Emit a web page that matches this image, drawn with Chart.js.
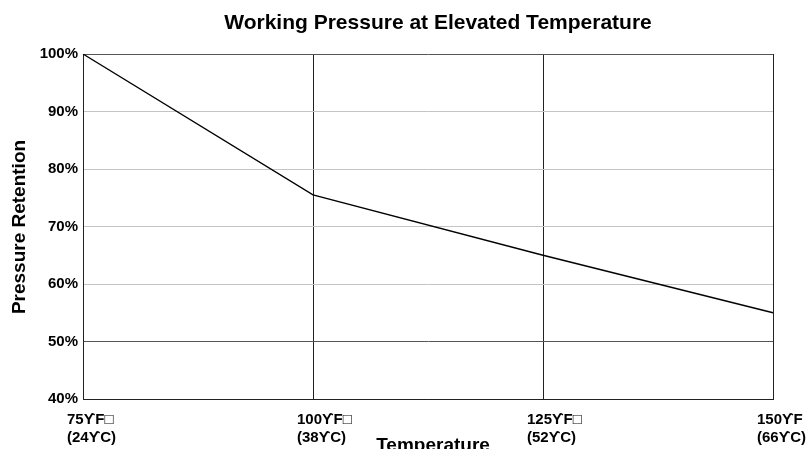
<!DOCTYPE html>
<html>
<head>
<meta charset="utf-8">
<script src="https://cdn.jsdelivr.net/npm/chart.js@4.4.1/dist/chart.umd.min.js"></script>
<style>
	body { margin: 0; background: #fff; }
	canvas { display: block; }
</style>
</head>
<body>
<canvas id="graph" width="806" height="449"></canvas>
<script>
var temperatures = [["75ϒF□", "(24ϒC)"], ["100ϒF□", "(38ϒC)"], ["125ϒF□", "(52ϒC)"], ["150ϒF", "(66ϒC)"]]
var retention = [100, 75.5, 65, 55]
var yTicks = [40, 50, 60, 70, 80, 90, 100]

var FONT = "'Liberation Sans', Arial, Helvetica, sans-serif"

// chart title and the two axis titles, drawn at fixed spots
var titles = {
	id: "titles",
	afterDraw: function(chart) {
		var ctx = chart.ctx
		ctx.save()
		ctx.fillStyle = "#000"
		ctx.textAlign = "center"
		ctx.textBaseline = "alphabetic"
		ctx.font = "bold 21px " + FONT
		ctx.fillText("Working Pressure at Elevated Temperature", 438, 29)
		ctx.font = "bold 19px " + FONT
		ctx.fillText("Temperature", 433, 451)
		ctx.translate(25, 227)
		ctx.rotate(-Math.PI / 2)
		ctx.fillText("Pressure Retention", 0, 0)
		ctx.restore()
	}
}

function hColor(ctx) {
	var v = ctx.tick ? ctx.tick.value : 0
	if (v == 40) return "#222"
	if (v == 50 || v == 100) return "#555"
	return "#c4c4c4"
}

new Chart(document.getElementById("graph"), {
	type: "line",
	data: {
		labels: temperatures,
		datasets: [{
			data: retention,
			borderColor: "#000",
			borderWidth: 1.3,
			pointRadius: 0,
			tension: 0,
			fill: false
		}]
	},
	options: {
		responsive: false,
		animation: false,
		layout: { padding: { top: 54, right: 33, bottom: 0, left: 0 } },
		plugins: {
			legend: { display: false },
			tooltip: { enabled: false }
		},
		scales: {
			x: {
				offset: false,
				grid: { color: "#222", lineWidth: 1, drawTicks: false },
				border: { color: "#222" },
				ticks: {
					autoSkip: false,
					maxRotation: 0,
					align: "start",
					labelOffset: -16,
					padding: 12,
					color: "#000",
					font: { family: FONT, size: 15, weight: "bold", lineHeight: 1.2 }
				},
				afterFit: function(scale) {
					scale.height = 50
					scale.paddingLeft = 0
					scale.paddingRight = 0
				}
			},
			y: {
				min: 40,
				max: 100,
				afterBuildTicks: function(scale) {
					scale.ticks = yTicks.map(function(v) { return { value: v } })
				},
				grid: { color: hColor, lineWidth: 1, drawTicks: false },
				border: { color: "#222" },
				ticks: {
					padding: 5,
					color: "#000",
					font: { family: FONT, size: 15, weight: "bold" },
					callback: function(v) { return v + "%" }
				},
				afterFit: function(scale) {
					scale.width = 83
				}
			}
		}
	},
	plugins: [titles]
})
</script>
</body>
</html>
